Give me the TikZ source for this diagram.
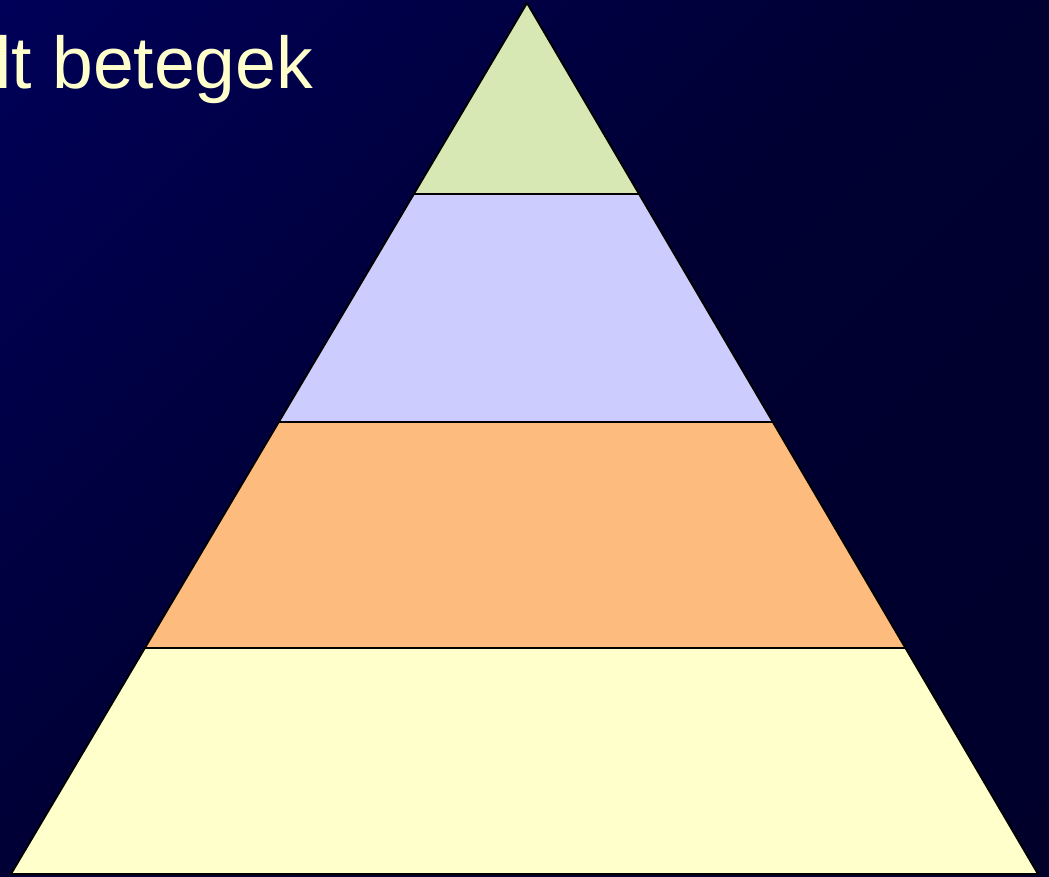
\documentclass[tikz,border=0pt]{standalone}
\usepackage{fontspec}
\setmainfont{Liberation Sans}
\usepackage{xcolor}
\usetikzlibrary{calc}

\definecolor{hatterA}{HTML}{000068}
\definecolor{hatterM}{HTML}{000032}
\definecolor{hatterB}{HTML}{000028}
\definecolor{szintA}{HTML}{D7E8B5}
\definecolor{szintB}{HTML}{CCCCFF}
\definecolor{szintC}{HTML}{FEBB7E}
\definecolor{szintD}{HTML}{FFFFCC}

\pgfdeclareverticalshading{hatter}{100bp}{color(0bp)=(hatterB); color(50bp)=(hatterM);
  color(100bp)=(hatterA)}

\begin{document}
\begin{tikzpicture}[
    x=0.75pt, y=-0.75pt,
    szint/.style={draw=black, line width=1.4pt, line join=round},
    cim/.style={anchor=base west, inner sep=0pt, text=szintD,
                font=\fontsize{55}{60}\selectfont}
  ]
    % hatter
    \useasboundingbox (0,0) rectangle (1049,877);
    \clip (0,0) rectangle (1049,877);
    \shade[shading=hatter, shading angle=45] (0,0) rectangle (1049,877);

    \node[cim] (cim) at (-5,89) {lt betegek};

    % piramis
    \coordinate (csucs) at (527,3);
    \coordinate (bal) at (11,874);
    \coordinate (jobb) at (1038,874);
    \coordinate (b1) at ($(csucs)!0.2193!(bal)$);
    \coordinate (j1) at ($(csucs)!0.2193!(jobb)$);
    \coordinate (b2) at ($(csucs)!0.4811!(bal)$);
    \coordinate (j2) at ($(csucs)!0.4811!(jobb)$);
    \coordinate (b3) at ($(csucs)!0.7405!(bal)$);
    \coordinate (j3) at ($(csucs)!0.7405!(jobb)$);

    \draw[szint, fill=szintD] (b3) -- (j3) -- (jobb) -- (bal) -- cycle;
    \draw[szint, fill=szintC] (b2) -- (j2) -- (j3) -- (b3) -- cycle;
    \draw[szint, fill=szintB] (b1) -- (j1) -- (j2) -- (b2) -- cycle;
    \draw[szint, fill=szintA] (csucs) -- (j1) -- (b1) -- cycle;
  \end{tikzpicture}
\end{document}
